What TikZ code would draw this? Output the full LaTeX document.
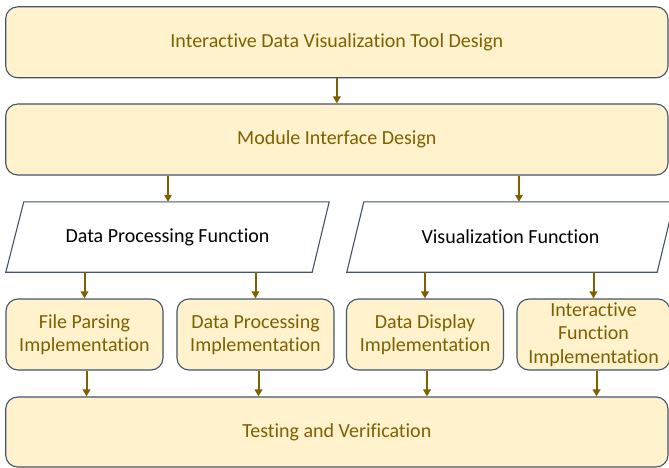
\documentclass[tikz,border=0pt]{standalone}
\usepackage{fontspec}
\setmainfont{Carlito}[Ligatures=NoCommon]
\usetikzlibrary{arrows.meta}
\definecolor{boxfill}{HTML}{FFF2CC}
\definecolor{boxtext}{HTML}{7F6000}
\definecolor{boxline}{HTML}{44546A}
\definecolor{arrcol}{HTML}{7F6000}
\tikzset{
  ybox/.style={draw=boxline, line width=1.1pt, fill=boxfill, rounded corners=12pt,
    text=boxtext, font=\fontsize{20}{23.5}\selectfont, align=center, inner sep=0pt},
  widebox/.style={ybox, minimum width=662.3pt, minimum height=71pt},
  smallbox/.style={ybox, minimum width=157pt, minimum height=71pt},
  paratext/.style={minimum height=70pt, inner sep=0pt, text=black,
    font=\fontsize{20}{23.5}\selectfont},
  paraline/.style={draw=boxline, line width=1.1pt, fill=white, line join=miter},
  arr/.style={draw=arrcol, line width=2pt, -{Triangle[length=7pt,width=7.5pt]}}
}
\begin{document}
\begin{tikzpicture}[x=1pt,y=-1pt]
\useasboundingbox (0,0) rectangle (669,468);
\clip (0,0) rectangle (669,468);
\fill[white] (0,0) rectangle (669,468);
\node[widebox] (top) at (336.85,42.3) {Interactive Data Visualization Tool Design};
\node[widebox] (mod) at (336.85,139.5) {Module Interface Design};
% parallelograms: text nodes spanning the full width, outline drawn from their anchors
\node[paratext, minimum width=323pt] (pl) at (167.5,237) {};
\node[paratext, minimum width=327pt] (pr) at (510.5,237) {};
\draw[paraline] (pl.south west) -- ([xshift=18pt]pl.north west) -- (pl.north east)
  -- ([xshift=-17pt]pl.south east) -- cycle;
\draw[paraline] (pr.south west) -- ([xshift=17pt]pr.north west) -- (pr.north east)
  -- ([xshift=-17pt]pr.south east) -- cycle;
\node[paratext] at (pl.center) {Data Processing Function};
\node[paratext] at (pr.center) {Visualization Function};
\node[smallbox] (b1) at (84.5,334.5) {File Parsing\\Implementation};
\node[smallbox] (b2) at (255.5,334.5) {Data Processing\\Implementation};
\node[smallbox] (b3) at (425,334.5) {Data Display\\Implementation};
\node[smallbox, minimum width=153pt] (b4) at (593.5,334.5) {Interactive\\Function\\Implementation};
\node[widebox, minimum height=70pt] (bot) at (336.85,432) {Testing and Verification};
\coordinate (ml) at (168,175);
\coordinate (mr) at (519,175);
\draw[arr] (top.south) -- (mod.north);
\draw[arr] (ml |- mod.south) -- (ml |- pl.north);
\draw[arr] (mr |- mod.south) -- (mr |- pr.north);
\draw[arr] (b1.north |- pl.south) -- (b1.north);
\draw[arr] (b2.north |- pl.south) -- (b2.north);
\draw[arr] (b3.north |- pr.south) -- (b3.north);
\draw[arr] (b4.north |- pr.south) -- (b4.north);
\draw[arr] ([xshift=2pt]b1.south) -- ([xshift=2pt]b1.south |- bot.north);
\draw[arr] ([xshift=3pt]b2.south) -- ([xshift=3pt]b2.south |- bot.north);
\draw[arr] ([xshift=2pt]b3.south) -- ([xshift=2pt]b3.south |- bot.north);
\draw[arr] ([xshift=3pt]b4.south) -- ([xshift=3pt]b4.south |- bot.north);
\end{tikzpicture}
\end{document}
